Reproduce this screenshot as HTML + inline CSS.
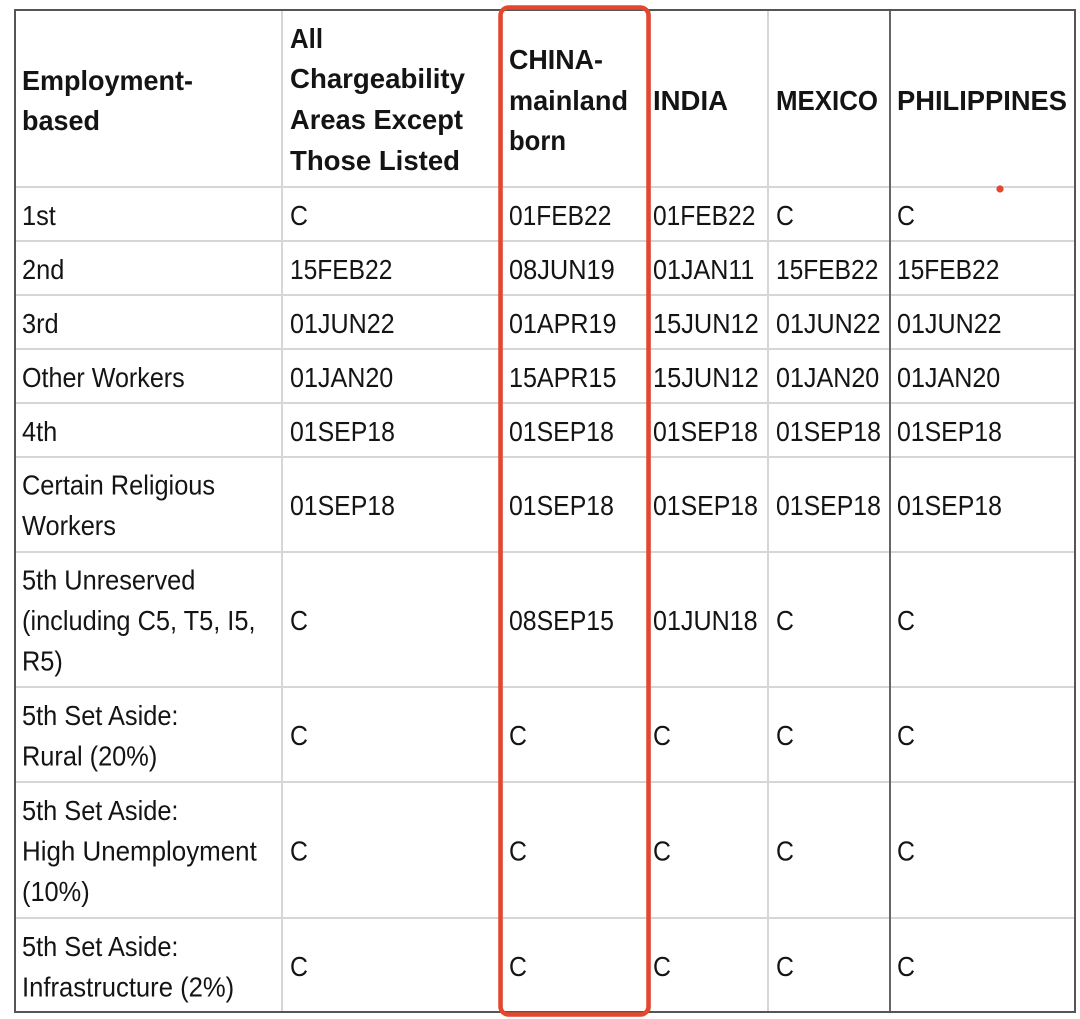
<!DOCTYPE html>
<html><head><meta charset="utf-8"><style>
html,body{margin:0;padding:0;background:#fff;width:1080px;height:1019px;overflow:hidden}
svg{display:block}
text{font-family:"Liberation Sans",Arial,sans-serif;fill:#141414}
.h{font-weight:bold;font-size:27.5px}
.r{font-size:28px}
</style></head><body>
<svg width="1080" height="1019" viewBox="0 0 1080 1019" xmlns="http://www.w3.org/2000/svg">
<rect width="1080" height="1019" fill="#fff"/>
<g stroke="#d6d6d6" stroke-width="2">
<line x1="15" y1="187" x2="1075" y2="187"/>
<line x1="15" y1="241" x2="1075" y2="241"/>
<line x1="15" y1="295" x2="1075" y2="295"/>
<line x1="15" y1="349" x2="1075" y2="349"/>
<line x1="15" y1="403" x2="1075" y2="403"/>
<line x1="15" y1="457" x2="1075" y2="457"/>
<line x1="15" y1="552" x2="1075" y2="552"/>
<line x1="15" y1="687" x2="1075" y2="687"/>
<line x1="15" y1="782" x2="1075" y2="782"/>
<line x1="15" y1="918" x2="1075" y2="918"/>
<line x1="282" y1="10" x2="282" y2="1012"/>
<line x1="502" y1="10" x2="502" y2="1012"/>
<line x1="650" y1="10" x2="650" y2="1012"/>
<line x1="768" y1="10" x2="768" y2="1012"/>
</g>
<g stroke="#666" stroke-width="2">
<line x1="890" y1="10" x2="890" y2="1012"/>
</g>
<g stroke="#555" stroke-width="2" fill="none">
<rect x="15" y="10" width="1060" height="1002"/>
</g>

<g class="h">
<text x="22" y="90" textLength="171" lengthAdjust="spacingAndGlyphs">Employment-</text>
<text x="22" y="130" textLength="78" lengthAdjust="spacingAndGlyphs">based</text>
<text x="290" y="48" textLength="33" lengthAdjust="spacingAndGlyphs">All</text>
<text x="290" y="88" textLength="175" lengthAdjust="spacingAndGlyphs">Chargeability</text>
<text x="290" y="129" textLength="173" lengthAdjust="spacingAndGlyphs">Areas Except</text>
<text x="290" y="170" textLength="170" lengthAdjust="spacingAndGlyphs">Those Listed</text>
<text x="509" y="69" textLength="94" lengthAdjust="spacingAndGlyphs">CHINA-</text>
<text x="509" y="110" textLength="119" lengthAdjust="spacingAndGlyphs">mainland</text>
<text x="509" y="150" textLength="57" lengthAdjust="spacingAndGlyphs">born</text>
<text x="653" y="110" textLength="75" lengthAdjust="spacingAndGlyphs">INDIA</text>
<text x="776" y="110" textLength="102" lengthAdjust="spacingAndGlyphs">MEXICO</text>
<text x="897" y="110" textLength="170" lengthAdjust="spacingAndGlyphs">PHILIPPINES</text>
</g>

<g class="r">
<text transform="translate(22,225) scale(0.906,1)">1st</text>
<text transform="translate(22,279) scale(0.906,1)">2nd</text>
<text transform="translate(22,333) scale(0.906,1)">3rd</text>
<text transform="translate(22,387) scale(0.897,1)">Other Workers</text>
<text transform="translate(22,441) scale(0.906,1)">4th</text>
<text transform="translate(22,494.5) scale(0.906,1)">Certain Religious</text>
<text transform="translate(22,535) scale(0.906,1)">Workers</text>
<text transform="translate(22,589.5) scale(0.906,1)">5th Unreserved</text>
<text transform="translate(22,630) scale(0.906,1)">(including C5, T5, I5,</text>
<text transform="translate(22,670.5) scale(0.906,1)">R5)</text>
<text transform="translate(22,725) scale(0.906,1)">5th Set Aside:</text>
<text transform="translate(22,765.5) scale(0.906,1)">Rural (20%)</text>
<text transform="translate(22,820) scale(0.906,1)">5th Set Aside:</text>
<text transform="translate(22,860.5) scale(0.926,1)">High Unemployment</text>
<text transform="translate(22,901) scale(0.906,1)">(10%)</text>
<text transform="translate(22,956) scale(0.906,1)">5th Set Aside:</text>
<text transform="translate(22,996.5) scale(0.916,1)">Infrastructure (2%)</text>
</g>

<g class="r">
<text transform="translate(290,225) scale(0.887,1)">C</text>
<text transform="translate(509,225) scale(0.877,1)">01FEB22</text>
<text transform="translate(653,225) scale(0.877,1)">01FEB22</text>
<text transform="translate(776,225) scale(0.887,1)">C</text>
<text transform="translate(897,225) scale(0.887,1)">C</text>

<text transform="translate(290,279) scale(0.877,1)">15FEB22</text>
<text transform="translate(509,279) scale(0.906,1)">08JUN19</text>
<text transform="translate(653,279) scale(0.897,1)">01JAN11</text>
<text transform="translate(776,279) scale(0.877,1)">15FEB22</text>
<text transform="translate(897,279) scale(0.877,1)">15FEB22</text>

<text transform="translate(290,333) scale(0.897,1)">01JUN22</text>
<text transform="translate(509,333) scale(0.897,1)">01APR19</text>
<text transform="translate(653,333) scale(0.906,1)">15JUN12</text>
<text transform="translate(776,333) scale(0.897,1)">01JUN22</text>
<text transform="translate(897,333) scale(0.897,1)">01JUN22</text>

<text transform="translate(290,387) scale(0.897,1)">01JAN20</text>
<text transform="translate(509,387) scale(0.897,1)">15APR15</text>
<text transform="translate(653,387) scale(0.906,1)">15JUN12</text>
<text transform="translate(776,387) scale(0.897,1)">01JAN20</text>
<text transform="translate(897,387) scale(0.897,1)">01JAN20</text>

<text transform="translate(290,441) scale(0.887,1)">01SEP18</text>
<text transform="translate(509,441) scale(0.887,1)">01SEP18</text>
<text transform="translate(653,441) scale(0.887,1)">01SEP18</text>
<text transform="translate(776,441) scale(0.887,1)">01SEP18</text>
<text transform="translate(897,441) scale(0.887,1)">01SEP18</text>

<text transform="translate(290,515) scale(0.887,1)">01SEP18</text>
<text transform="translate(509,515) scale(0.887,1)">01SEP18</text>
<text transform="translate(653,515) scale(0.887,1)">01SEP18</text>
<text transform="translate(776,515) scale(0.887,1)">01SEP18</text>
<text transform="translate(897,515) scale(0.887,1)">01SEP18</text>

<text transform="translate(290,630) scale(0.887,1)">C</text>
<text transform="translate(509,630) scale(0.887,1)">08SEP15</text>
<text transform="translate(653,630) scale(0.897,1)">01JUN18</text>
<text transform="translate(776,630) scale(0.887,1)">C</text>
<text transform="translate(897,630) scale(0.887,1)">C</text>

<text transform="translate(290,745) scale(0.887,1)">C</text>
<text transform="translate(509,745) scale(0.887,1)">C</text>
<text transform="translate(653,745) scale(0.887,1)">C</text>
<text transform="translate(776,745) scale(0.887,1)">C</text>
<text transform="translate(897,745) scale(0.887,1)">C</text>

<text transform="translate(290,860.5) scale(0.887,1)">C</text>
<text transform="translate(509,860.5) scale(0.887,1)">C</text>
<text transform="translate(653,860.5) scale(0.887,1)">C</text>
<text transform="translate(776,860.5) scale(0.887,1)">C</text>
<text transform="translate(897,860.5) scale(0.887,1)">C</text>

<text transform="translate(290,976) scale(0.887,1)">C</text>
<text transform="translate(509,976) scale(0.887,1)">C</text>
<text transform="translate(653,976) scale(0.887,1)">C</text>
<text transform="translate(776,976) scale(0.887,1)">C</text>
<text transform="translate(897,976) scale(0.887,1)">C</text>
</g>

<rect x="500.5" y="7.5" width="148" height="1007" rx="8" ry="8" fill="none" stroke="#e4472d" stroke-width="4.5"/>
<circle cx="1000" cy="189" r="3.6" fill="#e4472d"/>
</svg>
</body></html>
